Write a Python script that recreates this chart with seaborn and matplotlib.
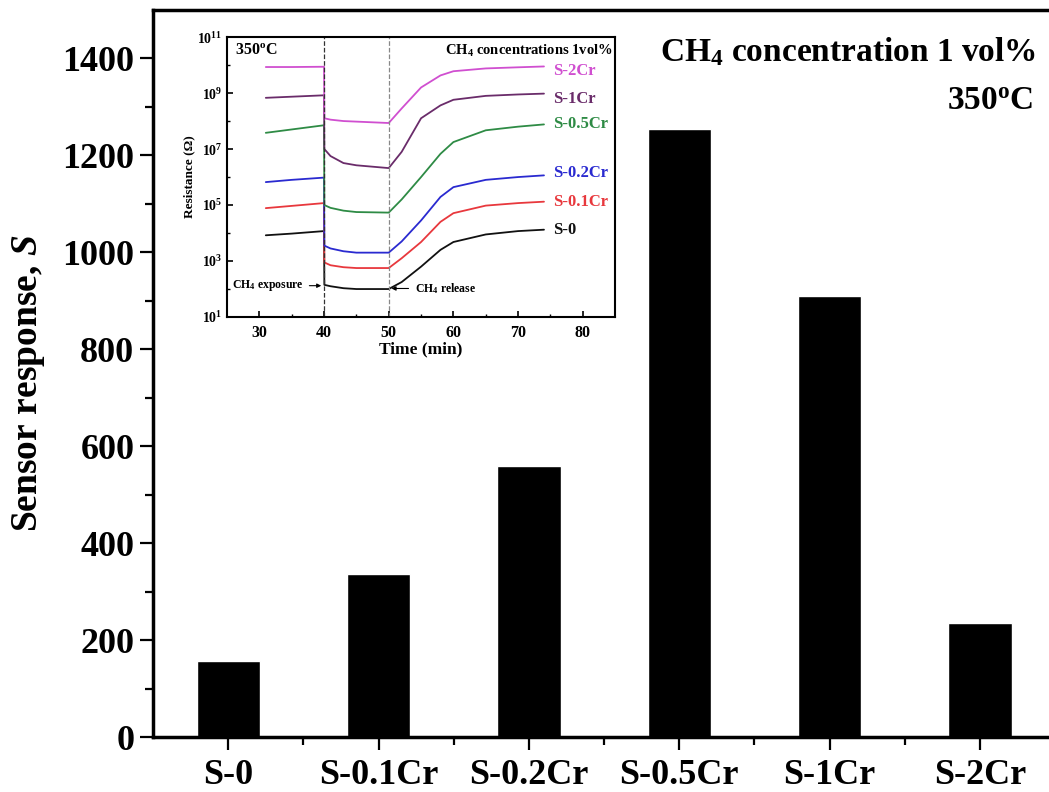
import pandas as pd
import numpy as np
import matplotlib.pyplot as plt
import seaborn as sns

# Main bar data
samples = ['S-0', 'S-0.1Cr', 'S-0.2Cr', 'S-0.5Cr', 'S-1Cr', 'S-2Cr']
response = [157, 337, 560, 1255, 910, 236]

# Inset data: time (min) and log10(resistance / ohm) for each sample
time_min = [31, 35, 40, 40.05, 41, 43, 45, 50, 52, 55, 58, 60, 65, 70, 74]
log_r_s0 = [3.92, 3.98, 4.07, 2.15, 2.10, 2.03, 2.00, 2.00, 2.25, 2.80, 3.40, 3.68, 3.95, 4.07, 4.12]
log_r_s01 = [4.89, 4.97, 5.07, 2.95, 2.85, 2.78, 2.75, 2.75, 3.10, 3.68, 4.40, 4.71, 4.98, 5.07, 5.12]
log_r_s02 = [5.82, 5.90, 5.98, 3.55, 3.45, 3.35, 3.30, 3.30, 3.70, 4.45, 5.29, 5.64, 5.90, 6.00, 6.06]
log_r_s05 = [7.58, 7.70, 7.85, 5.00, 4.90, 4.80, 4.75, 4.73, 5.20, 6.00, 6.83, 7.25, 7.67, 7.80, 7.88]
log_r_s1 = [8.83, 8.87, 8.92, 7.00, 6.75, 6.50, 6.42, 6.32, 6.90, 8.10, 8.56, 8.76, 8.90, 8.95, 8.98]
log_r_s2 = [9.93, 9.93, 9.94, 8.10, 8.05, 8.00, 7.98, 7.93, 8.45, 9.20, 9.63, 9.78, 9.88, 9.92, 9.95]

inset_series = {'S-0': log_r_s0, 'S-0.1Cr': log_r_s01, 'S-0.2Cr': log_r_s02,
                'S-0.5Cr': log_r_s05, 'S-1Cr': log_r_s1, 'S-2Cr': log_r_s2}
inset_colors = {'S-0': '#111111', 'S-0.1Cr': '#e8383d', 'S-0.2Cr': '#2a2ad0',
                'S-0.5Cr': '#2e8b45', 'S-1Cr': '#6a2c6a', 'S-2Cr': '#d04fd0'}
label_y = {'S-0': 4.1, 'S-0.1Cr': 5.1, 'S-0.2Cr': 6.15, 'S-0.5Cr': 7.9, 'S-1Cr': 8.8, 'S-2Cr': 9.8}

sns.set_style('ticks')
plt.rcParams['font.family'] = ['Liberation Serif', 'DejaVu Serif']
plt.rcParams['font.weight'] = 'bold'
plt.rcParams['text.color'] = 'black'
plt.rcParams['axes.labelcolor'] = 'black'
plt.rcParams['axes.edgecolor'] = 'black'
plt.rcParams['xtick.color'] = 'black'
plt.rcParams['ytick.color'] = 'black'
plt.rcParams['mathtext.fontset'] = 'custom'
plt.rcParams['mathtext.rm'] = 'Liberation Serif:bold'
plt.rcParams['mathtext.it'] = 'Liberation Serif:bold:italic'
plt.rcParams['mathtext.bf'] = 'Liberation Serif:bold'

fig = plt.figure(figsize=(10.49, 7.92), dpi=100)
ax = fig.add_axes([0.1459, 0.0694, 0.86, 0.918])

bar_df = pd.DataFrame({'sample': samples, 'response': response})
sns.barplot(data=bar_df, x='sample', y='response', color='black', saturation=1,
            width=0.42, ax=ax)
ax.set_xlim(-0.5, 5.5)
ax.set_ylim(0, 1500)
ax.set_yticks(np.arange(0, 1401, 200))
ax.set_yticks(np.arange(100, 1500, 200), minor=True)
ax.set_xticks(np.arange(0.5, 5.5, 1.0), minor=True)
ax.tick_params(axis='both', which='major', labelsize=26, width=1.6, length=9.5, direction='out')
ax.tick_params(axis='both', which='minor', width=1.6, length=5.8, direction='out')
ax.tick_params(axis='x', pad=6)
ax.tick_params(axis='y', pad=4)
for lab in ax.get_xticklabels() + ax.get_yticklabels():
    lab.set_fontweight('bold')
ax.set_xlabel('')
ax.set_ylabel('Sensor response, $\\mathit{S}$', fontsize=27, fontweight='bold')
ax.yaxis.set_label_coords(-0.117, 0.486)
for side in ['left', 'bottom', 'top']:
    ax.spines[side].set_linewidth(2.5)
ax.spines['right'].set_visible(False)
ax.spines['top'].set_visible(True)

fig.text(0.988, 0.934, 'CH$_4$ concentration 1 vol%', ha='right', va='center',
         fontsize=24, fontweight='bold')
fig.text(0.985, 0.872, '350$^\\mathregular{o}$C', ha='right', va='center',
         fontsize=24, fontweight='bold')

# Inset
axin = fig.add_axes([0.2164, 0.5997, 0.37, 0.3535])
rows = []
for name, vals in inset_series.items():
    for t, v in zip(time_min, vals):
        rows.append({'time': t, 'R': 10 ** v, 'sample': name})
inset_df = pd.DataFrame(rows)
sns.lineplot(data=inset_df, x='time', y='R', hue='sample', palette=inset_colors,
             estimator=None, legend=False, linewidth=1.3, ax=axin)
axin.set_yscale('log')
axin.set_xlim(25, 85)
axin.set_ylim(1e1, 1e11)
axin.axvline(40, color='#333333', linestyle='--', linewidth=0.9)
axin.axvline(50, color='#888888', linestyle='--', linewidth=0.9)
axin.set_xticks([30, 40, 50, 60, 70, 80])
axin.set_xticks([35, 45, 55, 65, 75], minor=True)
axin.set_yticks([10.0 ** k for k in range(1, 12, 2)])
axin.set_yticklabels(['$10^{%d}$' % k for k in range(1, 12, 2)])
axin.set_yticks([10.0 ** k for k in range(2, 12, 2)], minor=True)
axin.yaxis.set_minor_formatter(plt.NullFormatter())
axin.tick_params(axis='x', which='major', labelsize=11.5, pad=6)
axin.tick_params(axis='y', which='major', labelsize=10)
axin.tick_params(axis='both', which='major', direction='in', length=4, width=1.2)
axin.tick_params(axis='both', which='minor', direction='in', length=2.5, width=1)
for lab in axin.get_xticklabels() + axin.get_yticklabels():
    lab.set_fontweight('bold')
axin.set_xlabel('Time (min)', fontsize=12.5, fontweight='bold', labelpad=0)
axin.set_ylabel('Resistance (\u03a9)', fontsize=9.5, fontweight='bold', labelpad=1)
for s in axin.spines.values():
    s.set_linewidth(1.5)

for name in samples:
    axin.text(75.4, 10 ** label_y[name], name, color=inset_colors[name], fontsize=12,
              fontweight='bold', va='center', ha='left')
axin.text(26.2, 10 ** 10.5, '350$^\\mathregular{o}$C', fontsize=11.5, fontweight='bold', va='center')
axin.text(84.6, 10 ** 10.5, 'CH$_4$ concentrations 1vol%', fontsize=10.5, fontweight='bold',
          va='center', ha='right')
axin.annotate('CH$_4$ exposure', xy=(40, 10 ** 2.12), xytext=(25.7, 10 ** 2.12), fontsize=8.5,
              fontweight='bold', va='center',
              arrowprops=dict(arrowstyle='-|>', color='black', lw=0.8, mutation_scale=6))
axin.annotate('CH$_4$ release', xy=(50, 10 ** 2.02), xytext=(54.0, 10 ** 2.02), fontsize=8.5,
              fontweight='bold', va='center',
              arrowprops=dict(arrowstyle='-|>', color='black', lw=0.8, mutation_scale=6))

plt.savefig('out.png', dpi=100)
